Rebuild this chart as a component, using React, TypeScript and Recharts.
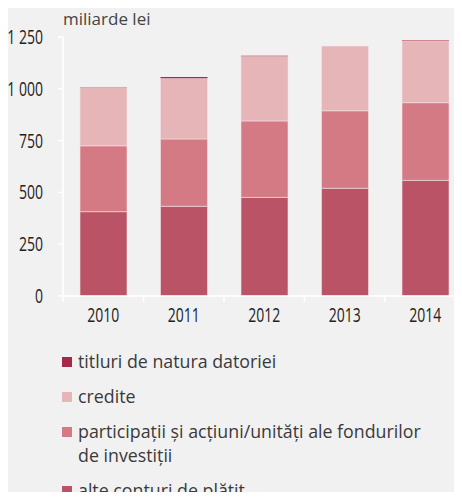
import React from 'react';
import { BarChart, Bar, XAxis, YAxis, Legend } from 'recharts';

const years = ['2010', '2011', '2012', '2013', '2014'];
const alteConturi = [407, 433, 476, 520, 558];
const participatii = [318, 325, 369, 374, 375];
const credite = [282, 293, 312, 312, 299];
const titluri = [2, 6, 3, 1, 2];
const yTicks = [0, 250, 500, 750, 1000, 1250];

const seriesNames = {
  titluri: 'titluri de natura datoriei',
  credite: 'credite',
  participatii: 'participații și acțiuni/unități ale fondurilor de investiții',
  alte: 'alte conturi de plătit',
};

const colors = {
  titluri: '#a52a48',
  credite: '#e6b5b8',
  participatii: '#d47a84',
  alte: '#b95365',
};

const data = years.map((y, i) => ({
  year: y,
  alte: alteConturi[i],
  participatii: participatii[i],
  credite: credite[i],
  titluri: titluri[i],
}));

const fmt = (v: number) => (v >= 1000 ? `${Math.floor(v / 1000)} ${String(v % 1000).padStart(3, '0')}` : String(v));

const tickFont = '"Open Sans", "Noto Sans", sans-serif';
const textFont = '"Open Sans", "Noto Sans", sans-serif';

const XTick = (props: any) => {
  const { x, y, payload, band } = props;
  const half = (band || 80.5) / 2;
  return (
    <g>
      <line x1={x - half} x2={x - half} y1={y - 8} y2={y - 2} stroke="#ffffff" strokeWidth={1.5} />
      <g transform={`translate(${x},${y + 18}) scale(0.7,1)`}>
        <text x={0} y={0} textAnchor="middle" fontFamily={tickFont} fontSize={20} fill="#222">
          {payload.value}
        </text>
      </g>
    </g>
  );
};

const YTick = (props: any) => {
  const { y, payload } = props;
  return (
    <g transform={`translate(43,${y + 7}) scale(0.7,1)`}>
      <text x={0} y={0} textAnchor="end" fontFamily={tickFont} fontSize={20} fill="#222">
        {fmt(payload.value)}
      </text>
    </g>
  );
};

const legendOrder: Array<keyof typeof seriesNames> = ['titluri', 'credite', 'participatii', 'alte'];
const legendLines: Record<string, string[]> = {
  titluri: ['titluri de natura datoriei'],
  credite: ['credite'],
  participatii: ['participații și acțiuni/unități ale fondurilor', 'de investiții'],
  alte: ['alte conturi de plătit'],
};

const LegendContent = () => (
  <div style={{ fontFamily: textFont, fontSize: 17.8, color: '#3a3a3a' }}>
    {legendOrder.map((k) => (
      <div key={k} style={{ display: 'flex', alignItems: 'flex-start', marginBottom: 11, lineHeight: '24px' }}>
        <span style={{ width: 10, height: 10, background: colors[k], marginTop: 8, marginRight: 6, flex: 'none' }} />
        <span>
          {legendLines[k].map((l, i) => (
            <div key={i}>{l}</div>
          ))}
        </span>
      </div>
    ))}
  </div>
);

export default function App() {
  return (
    <div style={{ margin: -8, width: 462, height: 500, overflow: 'hidden', background: '#f1f1f1', position: 'relative' }}>
      <div style={{ position: 'absolute', left: 0, top: 0, width: 4, height: 500, background: '#ffffff' }} />
      <div style={{ position: 'absolute', left: 63, top: 7, fontFamily: textFont, fontSize: 17, color: '#444' }}>
        miliarde lei
      </div>
      <BarChart
        width={470}
        height={330}
        data={data}
        margin={{ top: 37, right: 4.5, left: 0, bottom: 0 }}
        barCategoryGap={17}
      >
        <XAxis
          dataKey="year"
          tickLine={false}
          axisLine={{ stroke: '#ffffff', strokeWidth: 1.5 }}
          tick={<XTick band={80.5} />}
          height={34}
          interval={0}
        />
        <YAxis
          domain={[0, 1250]}
          ticks={yTicks}
          width={63}
          tickLine={{ stroke: '#ffffff', strokeWidth: 1.5 }}
          tickSize={5}
          axisLine={{ stroke: '#ffffff', strokeWidth: 1.5 }}
          tick={<YTick />}
        />
        <Bar dataKey="alte" name={seriesNames.alte} stackId="s" fill={colors.alte} stroke="#f3e3e5" strokeWidth={0.6} isAnimationActive={false} />
        <Bar dataKey="participatii" name={seriesNames.participatii} stackId="s" fill={colors.participatii} stroke="#f3e3e5" strokeWidth={0.6} isAnimationActive={false} />
        <Bar dataKey="credite" name={seriesNames.credite} stackId="s" fill={colors.credite} stroke="#f3e3e5" strokeWidth={0.6} isAnimationActive={false} />
        <Bar dataKey="titluri" name={seriesNames.titluri} stackId="s" fill={colors.titluri} isAnimationActive={false} />
        <Legend
          layout="vertical"
          align="center"
          verticalAlign="middle"
          content={<LegendContent />}
          wrapperStyle={{ position: 'absolute', left: 62, top: 349, width: 400 }}
        />
      </BarChart>
    </div>
  );
}
